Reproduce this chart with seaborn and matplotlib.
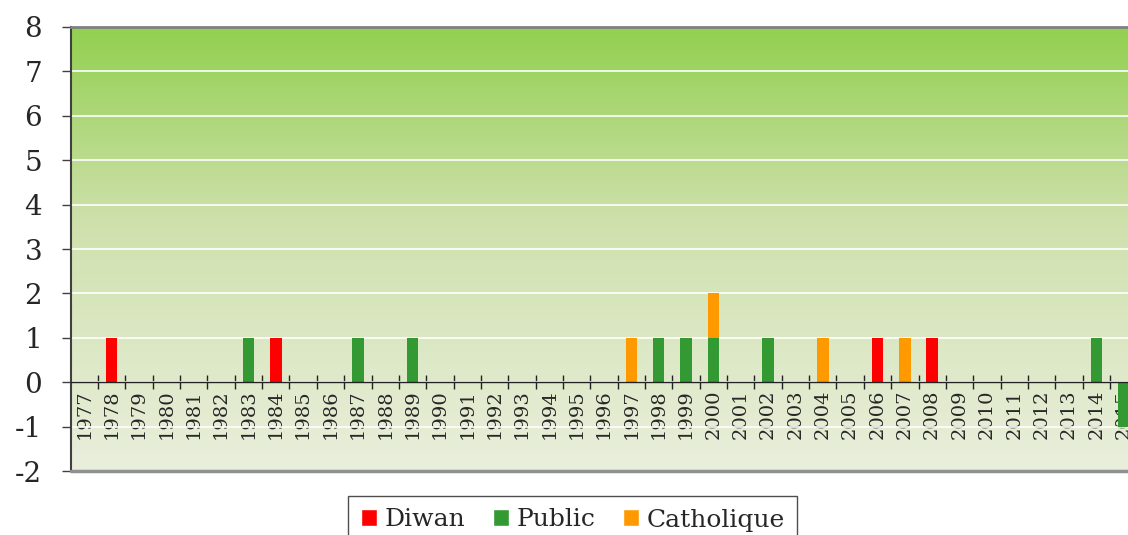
import numpy as np
import matplotlib
matplotlib.use('Agg')
import matplotlib.pyplot as plt
from matplotlib.patches import Patch
from matplotlib.colors import LinearSegmentedColormap
import seaborn as sns

# data
years = [str(y) for y in range(1977, 2016)]
diwan = {'1978': 1, '1984': 1, '2006': 1, '2008': 1}
public = {'1983': 1, '1987': 1, '1989': 1, '1998': 1, '1999': 1, '2000': 1,
          '2002': 1, '2014': 1, '2015': -1}
catholique = {'1997': 1, '2000': 1, '2004': 1, '2007': 1}

diwan_vals = [diwan.get(y, 0) for y in years]
public_vals = [public.get(y, 0) for y in years]
cath_vals = [catholique.get(y, 0) for y in years]
cath_bottom = [max(p, 0) for p in public_vals]

c_diwan = '#ff0000'
c_public = '#339933'
c_cath = '#ff9900'

sns.set_theme(style='white')
plt.rcParams['font.family'] = ['DejaVu Serif']

fig = plt.figure(figsize=(11.28, 5.35), dpi=100)
n = len(years)
cw = 27.35 / 1128
ax = fig.add_axes([70.65 / 1128, 1 - 471 / 535, n * cw, (471 - 27) / 535])

# gradient background
grad_cmap = LinearSegmentedColormap.from_list(
    'bg', [(0.0, '#e9efdc'), (0.55, '#d0e1ae'), (1.0, '#92d050')])
grad = np.linspace(0, 1, 256).reshape(-1, 1)
ax.imshow(grad, extent=(-0.5, n - 0.5, -2, 8), origin='lower', aspect='auto',
          cmap=grad_cmap, zorder=0)

bw = 0.42
sns.barplot(x=years, y=public_vals, color=c_public, width=bw, ax=ax,
            saturation=1, linewidth=0, zorder=2)
sns.barplot(x=years, y=cath_vals, bottom=cath_bottom, color=c_cath, width=bw,
            ax=ax, saturation=1, linewidth=0, zorder=2)
sns.barplot(x=years, y=diwan_vals, color=c_diwan, width=bw, ax=ax,
            saturation=1, linewidth=0, zorder=2)

ax.set_xlim(-0.5, n - 0.5)
ax.set_ylim(-2, 8)
ax.set_yticks(range(-2, 9))
ax.set_yticklabels([str(v) for v in range(-2, 9)], fontsize=20)
ax.yaxis.grid(True, color='white', lw=1.2)
ax.set_axisbelow(True)
for ln in ax.get_ygridlines():
    ln.set_zorder(1)
ax.tick_params(axis='y', left=True, length=6.5, width=1, color='#404040',
               pad=14, direction='out')

# x axis crossing at zero
ax.spines['bottom'].set_position(('data', 0))
ax.spines['bottom'].set_color('#222222')
ax.spines['bottom'].set_linewidth(1)
ax.spines['bottom'].set_zorder(3)
ax.set_xticks(range(n))
ax.set_xticklabels(years, rotation=90, fontsize=14, va='top')
ax.set_xticks(np.arange(0.5, n - 1, 1), minor=True)
ax.tick_params(axis='x', which='major', length=0, pad=5)
ax.tick_params(axis='x', which='minor', bottom=True, length=10,
               direction='inout', width=1, color='#222222')
ax.set_xlabel('')
ax.set_ylabel('')

ax.spines['left'].set_color('#404040')
ax.spines['left'].set_linewidth(1.5)
ax.spines['top'].set_color('#808080')
ax.spines['top'].set_linewidth(2)
ax.spines['right'].set_visible(False)
ax.axhline(-2, color='#909090', lw=2.5, clip_on=False, zorder=3)

handles = [Patch(facecolor=c_diwan, label='Diwan'),
           Patch(facecolor=c_public, label='Public'),
           Patch(facecolor=c_cath, label='Catholique')]
leg = fig.legend(handles=handles, loc='upper left', ncol=3,
                 bbox_to_anchor=(348 / 1128, 1 - 496 / 535), fontsize=18,
                 frameon=True, fancybox=False, edgecolor='#222222',
                 handlelength=0.65, handleheight=0.65, handletextpad=0.3,
                 columnspacing=1.1, borderpad=0.5, borderaxespad=0)
leg.get_frame().set_linewidth(1)

fig.savefig('out.png', dpi=100)
